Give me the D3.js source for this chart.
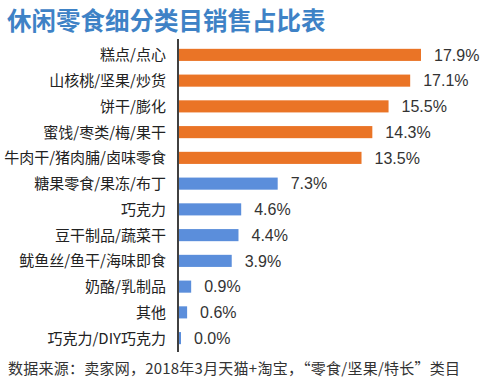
<!DOCTYPE html>
<html><head><meta charset="utf-8">
<script src="https://cdn.jsdelivr.net/npm/d3@7"></script>
<style>
html,body{margin:0;padding:0;background:#fff;}
svg{display:block;}
</style></head>
<body>
<script>
const title = "休闲零食细分类目销售占比表";
const categories = ["糕点/点心","山核桃/坚果/炒货","饼干/膨化","蜜饯/枣类/梅/果干","牛肉干/猪肉脯/卤味零食","糖果零食/果冻/布丁","巧克力","豆干制品/蔬菜干","鱿鱼丝/鱼干/海味即食","奶酪/乳制品","其他","巧克力/DIY巧克力"];
const values = [17.9,17.1,15.5,14.3,13.5,7.3,4.6,4.4,3.9,0.9,0.6,0.0];
const groups = ["top","top","top","top","top","rest","rest","rest","rest","rest","rest","rest"];
const source = "数据来源：卖家网，2018年3月天猫+淘宝，“零食/坚果/特长”类目";

const W = 486, H = 389;
const svg = d3.select("body").append("svg").attr("width", W).attr("height", H);
const cjk = "'Noto Sans CJK SC','Noto Sans',sans-serif";

const x0 = 179;
const x = d3.scaleLinear().domain([0, 17.9]).range([x0, 421]);
const y = d3.scaleBand().domain(categories).range([42, 351]).paddingInner(0.53).paddingOuter(0.265);
const color = d3.scaleOrdinal().domain(["top","rest"]).range(["#ea7426","#5b8edb"]);

svg.append("text").attr("x", 7).attr("y", 30)
  .attr("font-family", cjk).attr("font-weight", "bold").attr("font-size", 24.5)
  .attr("fill", "#3e82c6").text(title);

const rows = categories.map((c, i) => ({c, v: values[i], g: groups[i]}));

svg.selectAll("rect.bar").data(rows).join("rect").attr("class", "bar")
  .attr("x", x(0)).attr("y", d => y(d.c))
  .attr("width", d => Math.max(x(d.v) - x(0), 2))
  .attr("height", y.bandwidth())
  .attr("fill", d => color(d.g));

svg.selectAll("text.cat").data(rows).join("text").attr("class", "cat")
  .attr("x", 166).attr("y", d => y(d.c) + y.bandwidth() / 2)
  .attr("dy", "0.36em").attr("text-anchor", "end")
  .attr("font-family", cjk).attr("font-size", 15).attr("fill", "#222")
  .text(d => d.c);

svg.selectAll("text.val").data(rows).join("text").attr("class", "val")
  .attr("x", d => Math.max(x(d.v), x(0) + 2) + 13).attr("y", d => y(d.c) + y.bandwidth() / 2)
  .attr("dy", "0.36em")
  .attr("font-family", "'Liberation Sans',Arial,sans-serif").attr("font-size", 16).attr("fill", "#333")
  .text(d => d.v.toFixed(1) + "%");

svg.append("line").attr("x1", x0 - 1).attr("x2", x0 - 1).attr("y1", 39).attr("y2", 352)
  .attr("stroke", "#111").attr("stroke-width", 1.6);

svg.append("text").attr("x", 8).attr("y", 374)
  .attr("font-family", cjk).attr("font-size", 15).attr("fill", "#333")
  .attr("textLength", 452).attr("lengthAdjust", "spacing").text(source);
</script>
</body></html>
